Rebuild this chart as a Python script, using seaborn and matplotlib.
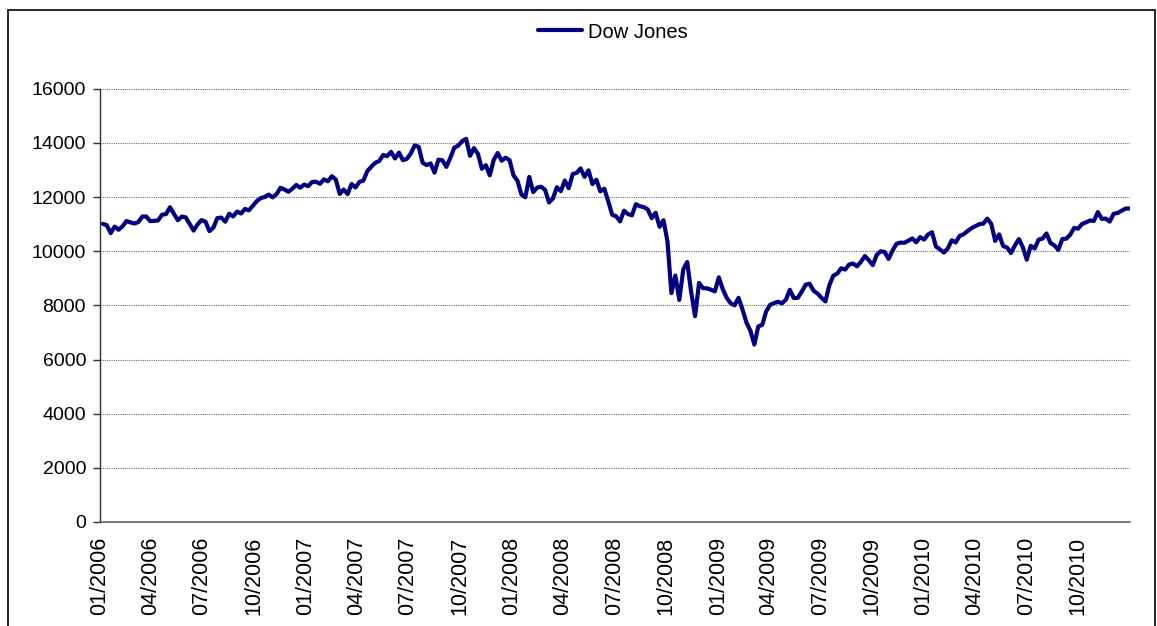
import matplotlib
matplotlib.use("Agg")
import matplotlib.pyplot as plt
from matplotlib.patches import Rectangle
import pandas as pd
import seaborn as sns

# Weekly (Friday) closes of the Dow Jones Industrial Average
dow_2006 = [11011, 10960, 10668, 10908, 10794, 10920, 11115, 11062, 11022, 11076,
            11279, 11280, 11109, 11120, 11137, 11347, 11367, 11620, 11380, 11144,
            11278, 11247, 11000, 10760, 10990, 11150, 11090, 10739, 10868, 11219,
            11240, 11088, 11381, 11284, 11464, 11392, 11560, 11508, 11679, 11850,
            11960, 12002, 12090, 11986, 12108, 12342, 12280, 12194, 12307, 12446,
            12343, 12463]
dow_2007 = [12398, 12556, 12565, 12487, 12653, 12580, 12768, 12647, 12114, 12276,
            12110, 12481, 12354, 12560, 12612, 12961, 13120, 13265, 13327, 13556,
            13507, 13668, 13424, 13639, 13360, 13409, 13611, 13907, 13851, 13265,
            13182, 13240, 12900, 13379, 13358, 13113, 13442, 13820, 13896, 14066,
            14150, 13522, 13807, 13596, 13043, 13177, 12800, 13372, 13626, 13340,
            13451, 13366]
dow_2008 = [12800, 12606, 12099, 11990, 12743, 12182, 12348, 12381, 12266, 11800,
            11951, 12361, 12216, 12609, 12325, 12849, 12891, 13058, 12745, 12986,
            12479, 12638, 12209, 12307, 11843, 11346, 11288, 11100, 11496, 11370,
            11326, 11734, 11659, 11628, 11543, 11220, 11421, 10900, 11143, 10365,
            8451, 9100, 8200, 9325, 9600, 8497, 7600, 8829, 8635, 8629,
            8579, 8515]
dow_2009 = [9035, 8600, 8281, 8077, 8001, 8280, 7850, 7366, 7063, 6550,
            7224, 7278, 7776, 8018, 8083, 8131, 8076, 8212, 8575, 8268,
            8277, 8500, 8764, 8799, 8540, 8438, 8280, 8146, 8743, 9093,
            9172, 9370, 9321, 9506, 9544, 9441, 9606, 9820, 9665, 9487,
            9865, 9996, 9972, 9713, 10023, 10271, 10318, 10310, 10388, 10471,
            10329, 10520]
dow_2010 = [10428, 10618, 10700, 10172, 10067, 9950, 10099, 10402, 10325, 10567,
            10625, 10742, 10850, 10927, 10998, 11019, 11204, 11009, 10380, 10620,
            10193, 10137, 9931, 10212, 10450, 10144, 9686, 10198, 10098, 10425,
            10466, 10654, 10303, 10214, 10050, 10448, 10463, 10608, 10861, 10830,
            11006, 11063, 11133, 11118, 11445, 11193, 11204, 11092, 11382, 11410,
            11492, 11573, 11578]

series_name = "Dow Jones"
tick_months = pd.date_range("2006-01-01", "2010-10-01", freq="QS")
y_ticks = [0, 2000, 4000, 6000, 8000, 10000, 12000, 14000, 16000]

closes = dow_2006 + dow_2007 + dow_2008 + dow_2009 + dow_2010
dates = pd.date_range("2006-01-06", periods=len(closes), freq="W-FRI")
df = pd.DataFrame({"date": dates, "close": closes, "series": series_name})

sns.set_style("white")
plt.rcParams["font.family"] = ["Liberation Sans", "DejaVu Sans"]
plt.rcParams["text.color"] = "black"
plt.rcParams["xtick.color"] = "black"
plt.rcParams["ytick.color"] = "black"

fig = plt.figure(figsize=(11.57, 6.26), dpi=100)
ax = fig.add_axes([100 / 1157, 1 - 522 / 626, 1030 / 1157, (522 - 88.7) / 626])

sns.lineplot(data=df, x="date", y="close", hue="series", palette=["#000080"],
             linewidth=3.0, ax=ax)

ax.set_xlim(pd.Timestamp("2006-01-01"), pd.Timestamp("2011-01-01"))
ax.set_ylim(0, 16000)
ax.set_yticks(y_ticks)
ax.set_yticklabels([str(v) for v in y_ticks], fontsize=14)
ax.set_xticks(tick_months)
ax.set_xticklabels([d.strftime("%m/%Y") for d in tick_months], rotation=90,
                   fontsize=15.5, va="top")
ax.set_xlabel("")
ax.set_ylabel("")

ax.yaxis.grid(True, color="#707070", linestyle=(0, (1, 1)), linewidth=0.8)
ax.xaxis.grid(False)
ax.set_axisbelow(True)
for side in ["top", "right"]:
    ax.spines[side].set_visible(False)
ax.spines["left"].set_color("#303030")
ax.spines["bottom"].set_color("#606060")
ax.spines["left"].set_linewidth(1.0)
ax.spines["bottom"].set_linewidth(1.2)
ax.tick_params(axis="y", left=True, length=5, width=1, color="#303030", pad=5)
ax.tick_params(axis="x", bottom=False, pad=7)

handles, labels = ax.get_legend_handles_labels()
ax.legend(handles, labels, loc="center", bbox_to_anchor=(613 / 1157, 1 - 32 / 626),
          bbox_transform=fig.transFigure, frameon=False, fontsize=14.5,
          handlelength=2.2, handletextpad=0.3)

fig.patches.append(Rectangle((8 / 1157, -0.02), 1147 / 1157, 1.02 - 10 / 626,
                             transform=fig.transFigure, fill=False,
                             edgecolor="black", linewidth=1.2))

fig.savefig("out.png", dpi=100)
